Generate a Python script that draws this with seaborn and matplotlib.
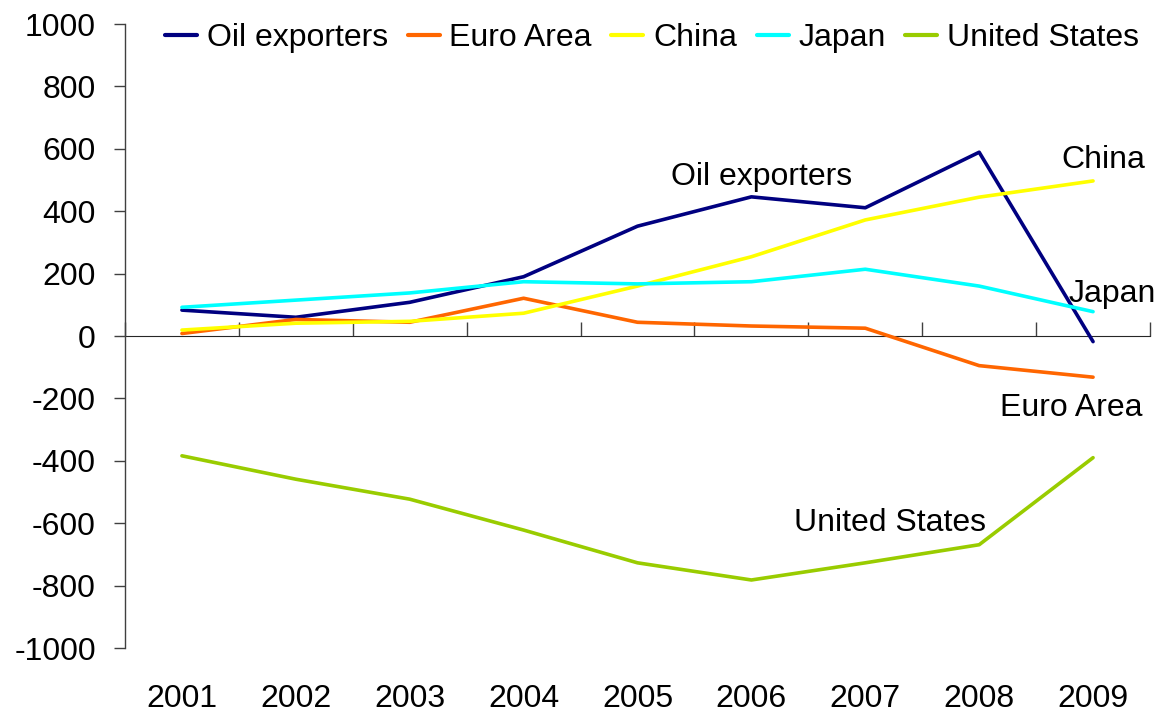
import matplotlib
matplotlib.use("Agg")
import matplotlib.pyplot as plt
import seaborn as sns
import pandas as pd
import numpy as np
from matplotlib.lines import Line2D

years = ["2001", "2002", "2003", "2004", "2005", "2006", "2007", "2008", "2009"]
oil_exporters = [83, 60, 108, 190, 352, 446, 411, 589, -18]
euro_area = [8, 53, 44, 121, 44, 32, 25, -95, -132]
china = [19, 41, 47, 73, 160, 254, 372, 445, 497]
japan = [92, 115, 138, 174, 167, 174, 214, 160, 78]
united_states = [-384, -459, -523, -622, -727, -782, -727, -669, -390]
series_names = ["Oil exporters", "Euro Area", "China", "Japan", "United States"]
colors = ["#000080", "#FF6600", "#FFFF00", "#00FFFF", "#99CC00"]
y_ticks = [-1000, -800, -600, -400, -200, 0, 200, 400, 600, 800, 1000]

series_values = [oil_exporters, euro_area, china, japan, united_states]
rows = []
for name, vals in zip(series_names, series_values):
    for i, v in enumerate(vals):
        rows.append({"idx": i, "value": v, "series": name})
df = pd.DataFrame(rows)

sns.set_style("white")
plt.rcParams["font.family"] = ["Liberation Sans", "DejaVu Sans"]
plt.rcParams["axes.unicode_minus"] = False
plt.rcParams["text.color"] = "black"
plt.rcParams["xtick.color"] = "black"
plt.rcParams["ytick.color"] = "black"

FS = 23

fig = plt.figure(figsize=(11.63, 7.12), dpi=100)
ax = fig.add_axes([125 / 1163, 1 - 648 / 712, (1150 - 125) / 1163, (648 - 24) / 712])

sns.lineplot(data=df, x="idx", y="value", hue="series", hue_order=series_names,
             palette=colors, linewidth=2.6, ax=ax, legend=False, sort=False)

ax.set_xlim(-0.5, 8.5)
ax.set_ylim(-1000, 1000)
ax.set_xlabel("")
ax.set_ylabel("")

for s in ["top", "right", "bottom"]:
    ax.spines[s].set_visible(False)
ax.spines["left"].set_color("#404040")
ax.spines["left"].set_linewidth(1.0)

ax.set_yticks(y_ticks)
ax.set_yticklabels([str(t) for t in y_ticks])
ax.tick_params(axis="y", direction="out", length=8, width=1.0, color="#404040",
               labelcolor="black", labelsize=FS, pad=13, left=True)
ax.set_xticks(range(len(years)))
ax.set_xticklabels(years)
ax.tick_params(axis="x", length=0, labelsize=FS, labelcolor="black", pad=26, bottom=True)

sec = ax.secondary_xaxis(0.5)
sec.set_xticks(np.arange(-0.5, 9.0, 1.0))
sec.set_xticklabels([])
sec.tick_params(direction="out", length=10, width=1.0, color="#404040")
sec.spines["bottom"].set_color("#404040")
sec.spines["bottom"].set_linewidth(1.0)

handles = [Line2D([0], [0], color=c, lw=3) for c in colors]
ax.legend(handles, series_names, ncol=5, frameon=False, loc="center",
          bbox_to_anchor=((652 - 125) / 1025, 1 - (38 - 24) / 624),
          fontsize=FS, handlelength=1.0, handletextpad=0.3, columnspacing=0.62,
          borderaxespad=0, labelcolor="black")

label_kw = dict(fontsize=FS, ha="center", va="center", color="black")
ax.text(5.09, 510, "Oil exporters", **label_kw)
ax.text(8.09, 564, "China", **label_kw)
ax.text(8.17, 135, "Japan", **label_kw)
ax.text(7.81, -231, "Euro Area", **label_kw)
ax.text(6.22, -599, "United States", **label_kw)

fig.savefig("out.png", dpi=100)
